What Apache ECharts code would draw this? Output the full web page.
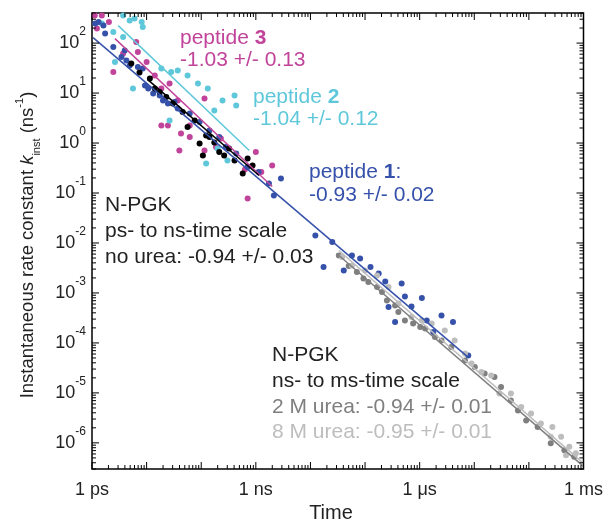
<!DOCTYPE html>
<html>
<head>
<meta charset="utf-8">
<script src="https://cdn.jsdelivr.net/npm/echarts@6.0.0/dist/echarts.min.js"></script>
<style>
  html, body { margin: 0; padding: 0; background: #fff; }
  #chart { width: 606px; height: 529px; }
</style>
</head>
<body>
<div id="chart"></div>
<script>
// all values are log10(time / ps) and log10(k_inst / ns^-1)
const peptide3 = [
  [0.05, 2.55], [0.18, 2.55], [0.09, 2.29], [0.31, 2.42], [0.57, 1.79], [0.81, 2.02], [0.84, 1.82],
  [0.39, 1.42], [1.00, 1.62], [1.15, 1.35], [1.27, 1.09], [1.42, 1.19], [1.57, 0.85], [2.06, 0.89],
  [1.27, 0.35], [1.39, 0.35], [1.79, 0.35], [1.63, 0.19], [1.79, 0.12], [1.60, -0.15], [2.27, -0.08],
  [2.06, -0.15], [2.36, 0.09], [3.30, -0.45], [3.10, -0.58], [2.80, -0.53], [3.00, -0.18], [2.85, -1.11]
];
const peptide2 = [
  [0.69, 2.45], [0.78, 2.49], [0.91, 2.42], [0.93, 2.32], [0.57, 2.55], [0.39, 2.22], [0.57, 2.12],
  [0.18, 2.39], [0.42, 1.62], [0.75, 1.09], [1.27, 1.49], [1.45, 1.42], [1.57, 1.45], [1.75, 1.35],
  [1.94, 1.19], [2.12, 1.09], [2.39, 0.85], [2.61, 0.95], [2.64, 0.75], [2.24, 0.65], [2.09, -0.41],
  [1.42, 0.45], [2.30, -0.11], [2.48, -0.35]
];
const peptide1 = [
  [0.12, 2.42], [0.06, 2.39], [0.21, 2.35], [0.24, 2.19], [0.39, 1.92], [0.60, 1.85], [0.54, 1.72],
  [0.63, 1.65], [0.84, 1.52], [0.93, 1.49], [0.69, 1.55], [0.97, 1.15], [1.03, 1.09], [1.12, 0.99],
  [1.24, 0.95], [1.30, 0.85], [1.39, 0.79], [1.51, 0.82], [1.57, 0.69], [1.79, 0.59], [1.97, 0.42],
  [2.15, 0.25], [2.33, 0.12], [2.45, -0.08], [2.64, -0.21], [2.85, -0.48], [3.05, -0.58], [3.46, -0.71],
  [3.24, -0.81], [3.33, -1.05],
  [4.09, -1.85], [4.40, -1.98], [4.24, -2.48], [4.61, -2.55], [4.76, -2.25], [4.91, -2.31], [5.10, -2.48],
  [5.25, -2.61], [5.37, -2.77], [5.67, -2.81], [5.73, -3.07], [5.85, -3.27], [6.04, -3.10], [5.43, -3.28],
  [5.55, -3.58], [6.13, -3.55], [6.40, -3.45], [6.61, -3.58], [6.25, -3.78], [6.89, -4.25]
];
const noUrea = [
  [0.72, 1.59], [0.87, 1.41], [1.06, 1.29], [1.15, 1.09], [1.24, 1.02], [1.36, 0.92], [1.48, 0.79],
  [1.66, 0.62], [1.75, 0.32], [1.88, 0.45], [2.09, 0.15], [2.15, 0.12], [1.97, -0.01], [2.03, -0.25],
  [2.24, 0.01], [2.33, -0.18], [2.42, -0.25], [2.51, -0.11], [2.61, -0.35], [2.76, -0.61], [2.85, -0.31],
  [2.94, -0.45]
];
const urea2M = [
  [4.52, -2.25], [4.70, -2.46], [4.85, -2.58], [4.97, -2.71], [5.06, -2.78], [5.22, -2.88], [5.31, -2.98],
  [5.40, -3.15], [5.55, -3.25], [5.61, -3.38], [5.73, -3.55], [5.88, -3.61], [6.01, -3.68], [6.10, -3.71],
  [6.28, -3.88], [6.40, -3.95], [6.58, -4.08], [6.83, -4.35], [7.01, -4.48], [7.19, -4.61], [7.37, -4.68],
  [7.49, -4.88], [7.67, -5.15], [7.80, -5.35], [7.95, -5.55], [8.16, -5.68], [8.40, -6.01], [8.65, -6.15],
  [8.83, -6.28]
];
const urea8M = [
  [4.58, -2.28], [4.76, -2.45], [5.00, -2.55], [5.22, -2.65], [5.43, -2.88], [5.61, -3.21], [5.85, -3.48],
  [6.04, -3.55], [6.22, -3.61], [6.46, -3.75], [6.64, -3.95], [6.83, -4.21], [6.95, -4.41], [7.13, -4.58],
  [7.31, -4.65], [7.46, -5.01], [7.67, -5.01], [7.86, -5.28], [8.04, -5.41], [8.22, -5.61], [8.43, -5.68],
  [8.59, -5.88], [8.74, -6.08], [8.86, -6.21], [8.68, -6.25], [8.40, -5.88]
];
// fitted power laws, start and end points
const fitPeptide3 = [[0.42, 2.09], [3.30, -0.87]];
const fitPeptide2 = [[0.48, 2.35], [2.88, -0.15]];
const fitPeptide1 = [[0.02, 2.11], [6.89, -4.29]];
const fitNoUrea = [[1.02, 1.27], [3.06, -0.65]];
const fit2M = [[4.48, -2.21], [9.00, -6.47]];
const fit8M = [[4.52, -2.15], [9.00, -6.41]];

const xLabels = { 0: '1 ps', 3: '1 ns', 6: '1 \u03bcs', 9: '1 ms' };
const yDecades = [-6, -5, -4, -3, -2, -1, 0, 1, 2];
const xMin = 0, xMax = 9;
const yMin = Math.log10(3e-7), yMax = Math.log10(400);

const C_P3 = '#c1449b', C_P2 = '#5ec8da', C_P1 = '#3651aa', C_2M = '#7f7f7f', C_8M = '#bdbdbd';
const FONT = '"Liberation Sans", Arial, sans-serif';
const TXT = 21;

function logTicks(lo, hi) {
  const ticks = [];
  for (let k = Math.floor(lo); k <= Math.ceil(hi); k++) {
    for (let m = 1; m <= 9; m++) {
      const v = k + Math.log10(m);
      if (v >= lo - 1e-9 && v <= hi + 1e-9) ticks.push({ v: v, major: m === 1 });
    }
  }
  return ticks;
}

function renderFrame(params, api) {
  const cs = params.coordSys;
  const left = cs.x, right = cs.x + cs.width, top = cs.y, bottom = cs.y + cs.height;
  const st = { stroke: '#000', lineWidth: 1 };
  const kids = [];
  logTicks(xMin, xMax).forEach(t => {
    const px = api.coord([t.v, yMin])[0];
    const len = t.major ? 7 : 4;
    kids.push({ type: 'line', shape: { x1: px, y1: bottom, x2: px, y2: bottom - len }, style: st });
    kids.push({ type: 'line', shape: { x1: px, y1: top, x2: px, y2: top + len }, style: st });
  });
  logTicks(yMin, yMax).forEach(t => {
    const py = api.coord([xMin, t.v])[1];
    const len = t.major ? 7 : 4;
    kids.push({ type: 'line', shape: { x1: left, y1: py, x2: left + len, y2: py }, style: st });
    kids.push({ type: 'line', shape: { x1: right, y1: py, x2: right - len, y2: py }, style: st });
  });
  yDecades.forEach(d => {
    const py = api.coord([xMin, d])[1];
    kids.push({
      type: 'text', x: left - 6, y: py - 4,
      style: {
        text: '{a|10}{b|' + d + '}', align: 'right', verticalAlign: 'middle',
        rich: {
          a: { fontSize: 18, fontFamily: FONT, lineHeight: 26, verticalAlign: 'bottom', fill: '#222' },
          b: { fontSize: 12, fontFamily: FONT, lineHeight: 12, verticalAlign: 'top', fill: '#222' }
        }
      }
    });
  });
  return { type: 'group', children: kids };
}

function dots(name, data, color) {
  return { name: name, type: 'scatter', data: data, symbolSize: 6, itemStyle: { color: color, opacity: 1 }, silent: true };
}
function fit(name, data, color) {
  return { name: name, type: 'line', data: data, symbol: 'none', lineStyle: { color: color, width: 1.5 }, silent: true, z: 3 };
}
function note(x, y, text, color, rich) {
  return {
    type: 'text', x: x, y: y,
    style: { text: text, fill: color, fontSize: TXT, fontFamily: FONT, align: 'left', verticalAlign: 'middle', rich: rich }
  };
}

const chart = echarts.init(document.getElementById('chart'), null, { renderer: 'canvas' });
const boldNum = c => ({ n: { fill: c, fontSize: TXT, fontFamily: FONT }, b: { fill: c, fontSize: TXT, fontFamily: FONT, fontWeight: 'bold' } });

chart.setOption({
  animation: false,
  backgroundColor: '#fff',
  grid: { left: 92, top: 13, right: 19, bottom: 60, show: true, borderColor: '#000', borderWidth: 1.5, backgroundColor: 'transparent' },
  xAxis: {
    type: 'value', min: xMin, max: xMax, interval: 3,
    axisLine: { show: false }, axisTick: { show: false }, splitLine: { show: false },
    axisLabel: { formatter: v => xLabels[v] || '', fontSize: 18, fontFamily: FONT, color: '#222', margin: 12 }
  },
  yAxis: {
    type: 'value', min: yMin, max: yMax,
    axisLine: { show: false }, axisTick: { show: false }, splitLine: { show: false }, axisLabel: { show: false }
  },
  graphic: [
    {
      type: 'text', x: 331, y: 513,
      style: { text: 'Time', fontSize: 20, fontFamily: FONT, fill: '#222', align: 'center', verticalAlign: 'middle' }
    },
    {
      type: 'text', x: 28, y: 245, rotation: Math.PI / 2,
      style: {
        text: '{n|Instantaneous rate constant }{k|k}{s|inst}{n| (ns}{p|-1}{n|)}',
        align: 'center', verticalAlign: 'middle',
        rich: {
          n: { fontSize: 18.5, fontFamily: FONT, lineHeight: 28, fill: '#222' },
          k: { fontSize: 18.5, fontFamily: FONT, fontStyle: 'italic', lineHeight: 28, fill: '#222' },
          s: { fontSize: 11, fontFamily: FONT, lineHeight: 11, verticalAlign: 'bottom', fill: '#222' },
          p: { fontSize: 11, fontFamily: FONT, lineHeight: 11, verticalAlign: 'top', fill: '#222' }
        }
      }
    },
    note(180, 38, '{n|peptide }{b|3}', C_P3, boldNum(C_P3)),
    note(180, 60, '-1.03 +/- 0.13', C_P3),
    note(253, 97, '{n|peptide }{b|2}', C_P2, boldNum(C_P2)),
    note(253, 119, '-1.04 +/- 0.12', C_P2),
    note(309, 172, '{n|peptide }{b|1}{n|:}', C_P1, boldNum(C_P1)),
    note(309, 195, '-0.93 +/- 0.02', C_P1),
    note(105, 205, 'N-PGK', '#222'),
    note(105, 231, 'ps- to ns-time scale', '#222'),
    note(105, 257, 'no urea: -0.94 +/- 0.03', '#222'),
    note(272, 355, 'N-PGK', '#222'),
    note(272, 381, 'ns- to ms-time scale', '#222'),
    note(272, 407, '2 M urea: -0.94 +/- 0.01', C_2M),
    note(272, 432, '8 M urea: -0.95 +/- 0.01', C_8M)
  ],
  series: [
    dots('peptide 3', peptide3, C_P3),
    dots('peptide 2', peptide2, C_P2),
    dots('peptide 1', peptide1, C_P1),
    dots('no urea', noUrea, '#000'),
    dots('2 M urea', urea2M, C_2M),
    dots('8 M urea', urea8M, C_8M),
    fit('fit peptide 3', fitPeptide3, C_P3),
    fit('fit peptide 2', fitPeptide2, C_P2),
    fit('fit peptide 1', fitPeptide1, C_P1),
    fit('fit no urea', fitNoUrea, '#000'),
    fit('fit 2 M', fit2M, C_2M),
    fit('fit 8 M', fit8M, C_8M),
    { type: 'custom', renderItem: renderFrame, data: [[0, 0]], silent: true, z: 10, clip: false }
  ]
});
</script>
</body>
</html>
